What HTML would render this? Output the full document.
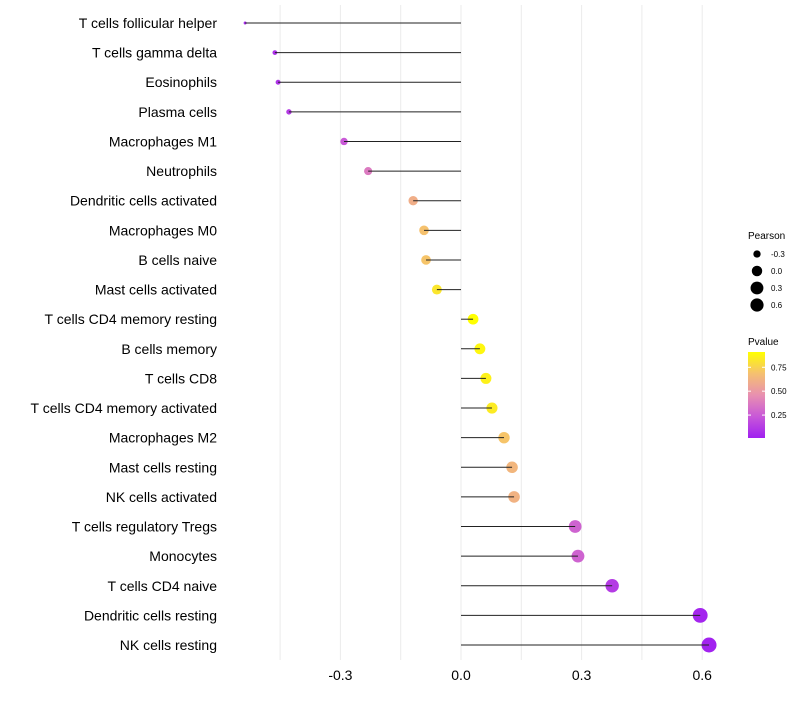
<!DOCTYPE html>
<html><head><meta charset="utf-8"><style>
body{margin:0;background:#fff;font-family:"Liberation Sans",sans-serif}
</style></head><body>
<svg id="c" width="800" height="700" xmlns="http://www.w3.org/2000/svg"></svg>
<script>
const categories=["T cells follicular helper","T cells gamma delta","Eosinophils","Plasma cells","Macrophages M1","Neutrophils","Dendritic cells activated","Macrophages M0","B cells naive","Mast cells activated","T cells CD4 memory resting","B cells memory","T cells CD8","T cells CD4 memory activated","Macrophages M2","Mast cells resting","NK cells activated","T cells regulatory  Tregs ","Monocytes","T cells CD4 naive","Dendritic cells resting","NK cells resting"];
const pearson=[-0.537,-0.463,-0.455,-0.428,-0.291,-0.231,-0.119,-0.092,-0.087,-0.060,0.030,0.047,0.062,0.077,0.107,0.127,0.132,0.284,0.291,0.376,0.595,0.617];
const pvalue=[0.05,0.08,0.09,0.12,0.24,0.37,0.60,0.69,0.70,0.82,0.91,0.88,0.86,0.84,0.70,0.64,0.62,0.28,0.28,0.12,0.03,0.02];
const xTicks=[-0.3,0.0,0.3,0.6];
const xTickLabels=["-0.3","0.0","0.3","0.6"];
const sizeLegend=[-0.3,0.0,0.3,0.6];
const pTicks=[0.25,0.50,0.75];
const NS="http://www.w3.org/2000/svg";
const svg=document.getElementById("c");
function el(t,a,p){const e=document.createElementNS(NS,t);for(const k in a)e.setAttribute(k,a[k]);(p||svg).appendChild(e);return e;}
const x=v=>461+v*402;
const y=i=>23+i*(645-23)/(categories.length-1);
const pmin=Math.min(...pearson),pmax=Math.max(...pearson);
const rad=v=>Math.sqrt(2.25+54*Math.max(0,(v-pmin)/(pmax-pmin)));
const stops=[[160,32,240],[200,88,216],[232,144,176],[245,192,112],[255,255,0]];
function col(p){const t=Math.max(0,Math.min(1,(p-0.01)/0.9))*4;const i=Math.min(3,Math.floor(t)),f=t-i;const a=stops[i],b=stops[i+1];return `rgb(${a.map((c,k)=>Math.round(c+(b[k]-c)*f)).join(",")})`;}
for(const v of [-0.45,-0.3,-0.15,0,0.15,0.3,0.45,0.6]){
 const g=el("line",{x1:x(v),x2:x(v),y1:5,y2:660,stroke:"#ebebeb","stroke-width":1});
 
 
}
xTicks.forEach((v,i)=>{
 const t=el("text",{x:x(v),y:680,"text-anchor":"middle","font-size":14,fill:"#000"});t.textContent=xTickLabels[i];
 
 
});
categories.forEach((c,i)=>{
 const t=el("text",{x:217,y:y(i)+5,"text-anchor":"end","font-size":14,fill:"#000"});t.textContent=c;
 
 
 const d=el("circle",{cx:x(pearson[i]),cy:y(i),r:rad(pearson[i]),fill:col(pvalue[i])});
 
 
 const l=el("line",{x1:x(0),x2:x(pearson[i]),y1:y(i),y2:y(i),stroke:"#222","stroke-width":1});
 
 
});
let t=el("text",{x:748,y:239,"font-size":10});t.textContent="Pearson";


sizeLegend.forEach((v,i)=>{
 const cy=254+i*17;
 const c=el("circle",{cx:757,cy:cy,r:Math.min(6.6,rad(v)),fill:"#000"});
 
 
 const tt=el("text",{x:771,y:cy+3,"font-size":8});tt.textContent=xTickLabels[i];
 
 
});
t=el("text",{x:748,y:345,"font-size":10});t.textContent="Pvalue";


const defs=el("defs",{});const gr=el("linearGradient",{id:"pg",x1:0,y1:1,x2:0,y2:0},defs);
stops.forEach((s,i)=>el("stop",{offset:i/4,"stop-color":`rgb(${s.join(",")})`},gr));
const bar=el("rect",{x:748,y:352,width:17,height:86,fill:"url(#pg)"});


const py=p=>438-(p-0.01)/0.9*86;
pTicks.forEach(p=>{
 el("line",{x1:748,x2:751,y1:py(p),y2:py(p),stroke:"#fff"});el("line",{x1:762,x2:765,y1:py(p),y2:py(p),stroke:"#fff"});
 const tt=el("text",{x:771,y:py(p)+3,"font-size":8});tt.textContent=p.toFixed(2);
 
 
});
</script>
</body></html>
